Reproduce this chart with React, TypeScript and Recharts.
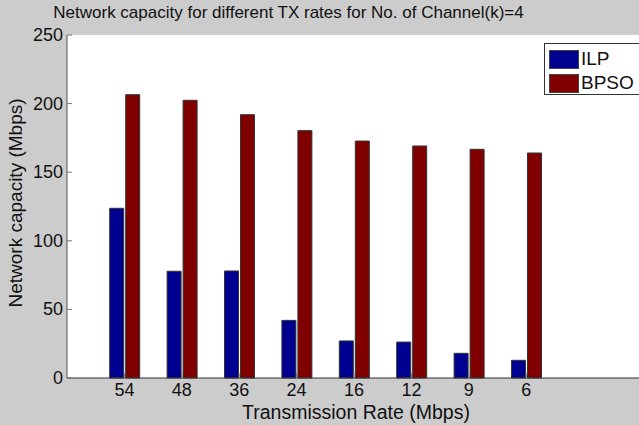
import React from 'react';
import { BarChart, Bar, XAxis, YAxis, Label, CartesianGrid } from 'recharts';

// Transmission rates (Mbps) shown along the x axis, one per slot
const rates = ['54', '48', '36', '24', '16', '12', '9', '6'];
// Network capacity (Mbps) per rate
const ilpValues = [123.7, 77.8, 78, 42, 27, 26.2, 18, 12.9];
const bpsoValues = [206.5, 202.4, 191.9, 180.3, 172.7, 169.1, 166.7, 164];
const yTicks = [0, 50, 100, 150, 200, 250];

const slotPositions = rates.map((_, i) => i + 1);
const rows = rates.map((rate, i) => ({
  pos: slotPositions[i],
  rate,
  ILP: ilpValues[i],
  BPSO: bpsoValues[i],
}));

const FONT = '"Liberation Sans", Arial, sans-serif';
const ILP_COLOR = '#000090';
const BPSO_COLOR = '#800000';

const series = [
  { name: 'ILP', color: ILP_COLOR },
  { name: 'BPSO', color: BPSO_COLOR },
];

const XTick = (props: any) => {
  const { x, y, payload } = props;
  const label = rates[payload.value - 1] ?? '';
  return (
    <g>
      <line x1={x} x2={x} y1={y} y2={y - 5} stroke="#777" />
      <text x={x} y={y + 18} textAnchor="middle" fontSize={18} fontFamily={FONT} fill="#111">
        {label}
      </text>
    </g>
  );
};

const YTickLeft = (props: any) => {
  const { x, y, payload } = props;
  return (
    <g>
      <line x1={x} x2={x + 5} y1={y} y2={y} stroke="#777" />
      <text x={x - 4} y={y + 6} textAnchor="end" fontSize={18} fontFamily={FONT} fill="#111">
        {payload.value}
      </text>
    </g>
  );
};

const YTickRight = (props: any) => {
  const { x, y } = props;
  return <line x1={x} x2={x - 5} y1={y} y2={y} stroke="#777" />;
};

const LegendBox = () => (
  <div
    style={{
      position: 'absolute',
      left: 544,
      top: 43,
      background: '#fff',
      border: '1px solid #333',
      width: 110,
      height: 52,
      boxSizing: 'border-box',
      fontFamily: FONT,
      fontSize: 19,
      color: '#111',
      padding: '3px 0 0 4px',
    }}
  >
    {series.map((s) => (
      <div key={s.name} style={{ display: 'flex', alignItems: 'center', height: 24 }}>
        <span
          style={{
            display: 'inline-block',
            width: 28,
            height: 17,
            background: s.color,
            border: '1px solid #444',
            marginRight: 2,
          }}
        />
        <span>{s.name}</span>
      </div>
    ))}
  </div>
);

export default function App() {
  return (
    <div
      style={{
        position: 'absolute',
        left: 0,
        top: 0,
        width: 639,
        height: 425,
        background: '#cccccc',
        overflow: 'hidden',
      }}
    >
      <BarChart
        width={639}
        height={425}
        data={rows}
        margin={{ top: 35, right: -2, bottom: 0, left: 0 }}
        barGap={2}
        style={{ position: 'absolute', left: 0, top: 0 }}
      >
        <CartesianGrid fill="#ffffff" stroke="none" horizontal={false} vertical={false} />
        <XAxis
          dataKey="pos"
          type="number"
          domain={[0, 10]}
          ticks={slotPositions}
          height={47}
          tickSize={0}
          tickMargin={0}
          tickLine={false}
          tick={<XTick />}
          axisLine={{ stroke: '#333' }}
          interval={0}
        >
          <Label
            content={() => (
              <text x={356} y={419} textAnchor="middle" fontSize={19.5} fontFamily={FONT} fill="#111">
                Transmission Rate (Mbps)
              </text>
            )}
          />
        </XAxis>
        <XAxis
          xAxisId="top"
          orientation="top"
          dataKey="pos"
          type="number"
          domain={[0, 10]}
          height={0}
          tick={false}
          tickLine={false}
          axisLine={{ stroke: '#333' }}
        />
        <YAxis
          type="number"
          domain={[0, 250]}
          ticks={yTicks}
          width={67}
          tickSize={0}
          tickMargin={0}
          tickLine={false}
          tick={<YTickLeft />}
          axisLine={{ stroke: '#555' }}
          interval={0}
        >
          <Label
            content={() => (
              <text
                x={22}
                y={203}
                transform="rotate(-90 22 203)"
                textAnchor="middle"
                fontSize={19}
                fontFamily={FONT}
                fill="#111"
              >
                Network capacity (Mbps)
              </text>
            )}
          />
        </YAxis>
        <YAxis
          yAxisId="right"
          orientation="right"
          type="number"
          domain={[0, 250]}
          ticks={yTicks}
          width={0}
          tickSize={0}
          tickMargin={0}
          tickLine={false}
          tick={<YTickRight />}
          axisLine={{ stroke: '#333' }}
        />
        <Bar dataKey="ILP" fill={ILP_COLOR} stroke="#333" strokeWidth={1} barSize={14} isAnimationActive={false} />
        <Bar dataKey="BPSO" fill={BPSO_COLOR} stroke="#333" strokeWidth={1} barSize={14} isAnimationActive={false} />
      </BarChart>
      <div
        style={{
          position: 'absolute',
          left: 0,
          width: 577,
          top: 3,
          textAlign: 'center',
          fontFamily: FONT,
          fontSize: 17,
          color: '#111',
          whiteSpace: 'nowrap',
        }}
      >
        Network capacity for different TX rates for No. of Channel(k)=4
      </div>
      <LegendBox />
    </div>
  );
}
